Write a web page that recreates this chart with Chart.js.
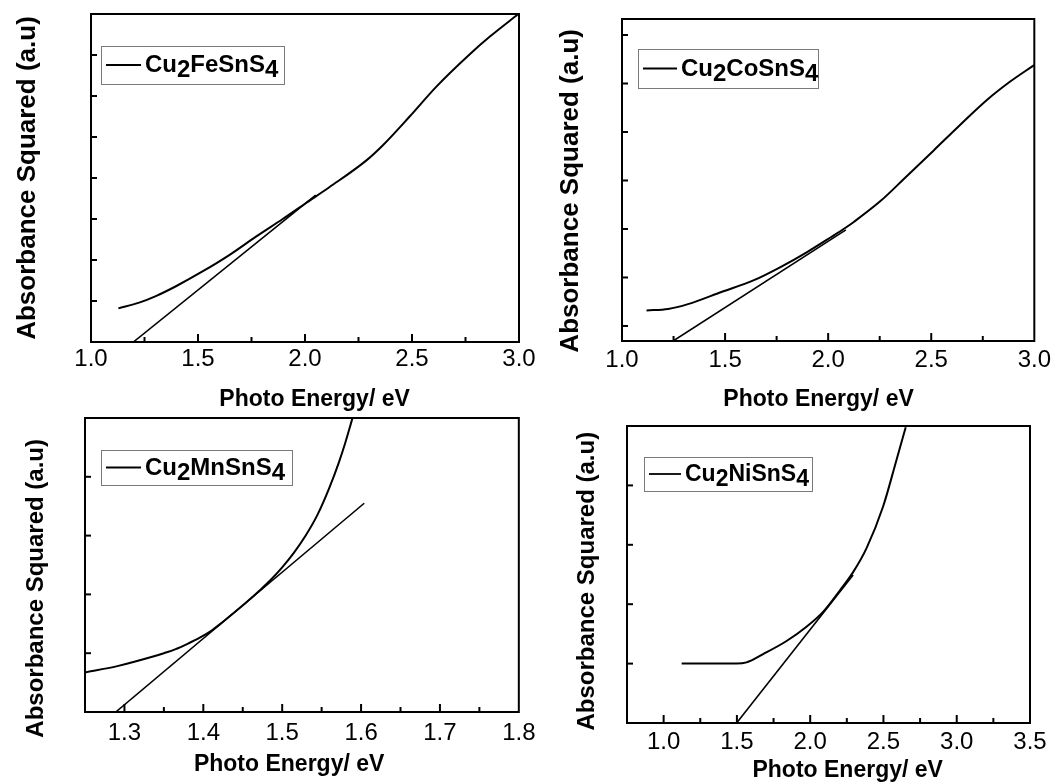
<!DOCTYPE html>
<html>
<head>
<meta charset="utf-8">
<script src="https://cdn.jsdelivr.net/npm/chart.js@4.4.0/dist/chart.umd.min.js"></script>
<style>
  html, body { margin: 0; padding: 0; background: #fff; }
  body { width: 1058px; height: 783px; position: relative; overflow: hidden; }
  canvas { position: absolute; }
</style>
</head>
<body>
<canvas id="fe" width="545" height="415" style="left:0;top:0"></canvas>
<canvas id="co" width="513" height="415" style="left:545px;top:0"></canvas>
<canvas id="mn" width="545" height="383" style="left:0;top:400px"></canvas>
<canvas id="ni" width="513" height="383" style="left:545px;top:400px"></canvas>
<script>
// ---- data ----
const feName = "Cu2FeSnS4";
const feX = [1.128, 1.225, 1.303, 1.397, 1.521, 1.646, 1.771, 1.896, 2.005, 2.115, 2.287, 2.364, 2.489, 2.614, 2.770, 2.864, 2.997];
const feY = [0.82, 0.96, 1.12, 1.36, 1.72, 2.12, 2.57, 3.00, 3.39, 3.78, 4.43, 4.80, 5.50, 6.23, 7.02, 7.45, 8.00];
const feFitX = [1.198, 2.05];
const feFitY = [0, 3.58];
const feRangeX = [1.0, 3.0];
const feRangeY = [0, 8];
const feLabelsX = [1.0, 1.5, 2.0, 2.5, 3.0];
const feTicksY = [1, 2, 3, 4, 5, 6, 7];

const coName = "Cu2CoSnS4";
const coX = [1.119, 1.224, 1.320, 1.482, 1.643, 1.771, 1.900, 2.013, 2.086, 2.126, 2.255, 2.367, 2.512, 2.641, 2.770, 2.883, 2.999];
const coY = [0.32, 0.35, 0.45, 0.70, 0.95, 1.22, 1.53, 1.83, 2.03, 2.15, 2.58, 3.03, 3.62, 4.15, 4.66, 5.04, 5.38];
const coFitX = [1.248, 2.086];
const coFitY = [-0.31, 1.98];
const coRangeX = [1.0, 3.0];
const coRangeY = [-0.31, 6.33];
const coLabelsX = [1.0, 1.5, 2.0, 2.5, 3.0];
const coTicksY = [0, 1, 2, 3, 4, 5, 6];

const mnName = "Cu2MnSnS4";
const mnX = [1.249, 1.291, 1.333, 1.350, 1.365, 1.380, 1.395, 1.410, 1.425, 1.440, 1.455, 1.470, 1.485, 1.500, 1.515, 1.530, 1.545, 1.560, 1.572, 1.580, 1.587, 1.590];
const mnY = [0.67, 0.78, 0.93, 1.00, 1.07, 1.16, 1.26, 1.38, 1.535, 1.70, 1.87, 2.05, 2.24, 2.46, 2.71, 3.005, 3.36, 3.82, 4.25, 4.58, 4.90, 5.04];
const mnFitX = [1.289, 1.604];
const mnFitY = [0, 3.55];
const mnRangeX = [1.25, 1.8];
const mnRangeY = [0, 5];
const mnLabelsX = [1.3, 1.4, 1.5, 1.6, 1.7, 1.8];
const mnTicksY = [1, 2, 3, 4];

const niName = "Cu2NiSnS4";
const niX = [1.123, 1.498, 1.566, 1.679, 1.839, 1.975, 2.088, 2.202, 2.293, 2.384, 2.497, 2.588, 2.652];
const niY = [1.00, 1.00, 1.02, 1.16, 1.38, 1.62, 1.87, 2.23, 2.54, 2.94, 3.64, 4.42, 4.98];
const niFitX = [1.498, 2.293];
const niFitY = [0, 2.49];
const niRangeX = [0.75, 3.5];
const niRangeY = [0, 5];
const niLabelsX = [1.0, 1.5, 2.0, 2.5, 3.0, 3.5];
const niTicksY = [1, 2, 3, 4];

const xTitle = "Photo Energy/ eV";
const yTitle = "Absorbance Squared (a.u)";
const family = "'Liberation Sans', Arial, sans-serif";

const pts = (xs, ys) => xs.map((v, i) => ({ x: v, y: ys[i] }));

// major labels plus a minor tick halfway between each pair
function withMinor(labels) {
  const out = [];
  labels.forEach((v, i) => {
    out.push(v);
    if (i < labels.length - 1) out.push((v + labels[i + 1]) / 2);
  });
  return out;
}

// nudge a centred title sideways with spaces (n > 0 moves it right / down)
function shifted(text, n) {
  return n > 0 ? ' '.repeat(n) + text : text + ' '.repeat(-n);
}

// frame, inward ticks and the legend with lowered digits
const framePlugin = {
  id: 'frame',
  afterDatasetsDraw(chart) {
    const { ctx, chartArea: a, scales: { x, y } } = chart;
    const b = chart.options.plugins.frame.box;
    ctx.save();
    ctx.strokeStyle = '#000';
    ctx.lineWidth = 2;
    x.ticks.forEach(t => {
      const px = x.getPixelForValue(t.value);
      if (px <= a.left + 2 || px >= a.right - 2) return;
      const len = t.label ? 8 : 5;
      ctx.beginPath();
      ctx.moveTo(px, a.bottom);
      ctx.lineTo(px, a.bottom - len);
      ctx.stroke();
    });
    y.ticks.forEach(t => {
      const py = y.getPixelForValue(t.value);
      if (py <= a.top + 2 || py >= a.bottom - 2) return;
      ctx.beginPath();
      ctx.moveTo(a.left, py);
      ctx.lineTo(a.left + 6, py);
      ctx.stroke();
    });
    ctx.strokeRect(a.left, a.top, a.right - a.left, a.bottom - a.top);

    // legend
    const bx = Math.round(a.left + b.dx), by = Math.round(a.top + b.dy);
    ctx.fillStyle = '#fff';
    ctx.fillRect(bx, by, b.w, b.h);
    ctx.strokeStyle = '#7a7a7a';
    ctx.lineWidth = 1;
    ctx.strokeRect(bx + 0.5, by + 0.5, b.w, b.h);
    const cy = by + b.h / 2;
    ctx.strokeStyle = '#000';
    ctx.lineWidth = 1.8;
    ctx.beginPath();
    ctx.moveTo(bx + 5, cy);
    ctx.lineTo(bx + 5 + b.line, cy);
    ctx.stroke();
    ctx.font = 'bold ' + b.font + 'px ' + family;
    ctx.fillStyle = '#000';
    ctx.textBaseline = 'alphabetic';
    let tx = bx + b.line + 9;
    for (const ch of chart.data.datasets[0].label) {
      const sub = /[0-9]/.test(ch);
      ctx.fillText(ch, tx, cy + 7 + (sub ? 5 : 0));
      tx += ctx.measureText(ch).width;
    }
    ctx.restore();
  }
};

function buildChart(id, d, L) {
  const ticksX = withMinor(d.labelsX);
  return new Chart(document.getElementById(id), {
    type: 'line',
    data: {
      datasets: [
        { label: d.name, data: pts(d.x, d.y), borderColor: '#000', borderWidth: 2,
          pointRadius: 0, cubicInterpolationMode: 'monotone' },
        { label: 'linear fit', data: pts(d.fitX, d.fitY), borderColor: '#000', borderWidth: 1.6,
          pointRadius: 0 }
      ]
    },
    options: {
      responsive: false,
      animation: false,
      events: [],
      layout: { padding: L.pad },
      plugins: {
        legend: { display: false },
        tooltip: { enabled: false },
        frame: { box: L.legend }
      },
      scales: {
        x: {
          type: 'linear', min: d.rangeX[0], max: d.rangeX[1],
          afterBuildTicks: s => { s.ticks = ticksX.map(v => ({ value: v })); },
          ticks: {
            autoSkip: false, maxRotation: 0, padding: L.tickPad, color: '#000',
            font: { family: family, size: 24, lineHeight: 1 },
            callback: v => d.labelsX.some(m => Math.abs(m - v) < 1e-6) ? v.toFixed(1) : ''
          },
          grid: { display: false, drawTicks: false },
          border: { display: false },
          title: {
            display: true, text: shifted(xTitle, L.xShift), color: '#000',
            font: { family: family, size: 23, weight: 'bold', lineHeight: 1 },
            padding: { top: 0, bottom: L.xTitlePad }
          },
          afterFit: s => { s.height = L.xh; }
        },
        y: {
          type: 'linear', min: d.rangeY[0], max: d.rangeY[1],
          afterBuildTicks: s => { s.ticks = d.ticksY.map(v => ({ value: v })); },
          ticks: { display: false },
          grid: { display: false, drawTicks: false },
          border: { display: false },
          title: {
            display: true, text: shifted(yTitle, -L.yShift), color: '#000',
            font: { family: family, size: L.yFont, weight: 'bold', lineHeight: 1 },
            padding: { top: L.yTitlePad, bottom: 0 }
          },
          afterFit: s => { s.width = L.yw; }
        }
      }
    },
    plugins: [framePlugin]
  });
}

buildChart('fe',
  { name: feName, x: feX, y: feY, fitX: feFitX, fitY: feFitY, rangeX: feRangeX, rangeY: feRangeY,
    labelsX: feLabelsX, ticksY: feTicksY },
  { pad: { left: 0, top: 14, right: 26, bottom: 0 }, yw: 91, xh: 73, tickPad: 5.5,
    xTitlePad: 4, xShift: 3, yFont: 26, yTitlePad: 15, yShift: 0,
    legend: { dx: 10, dy: 32, w: 183, h: 38, line: 35, font: 24 } });

buildChart('co',
  { name: coName, x: coX, y: coY, fitX: coFitX, fitY: coFitY, rangeX: coRangeX, rangeY: coRangeY,
    labelsX: coLabelsX, ticksY: coTicksY },
  { pad: { left: 0, top: 19, right: 22, bottom: 0 }, yw: 77, xh: 74, tickPad: 7,
    xTitlePad: 4, xShift: -3, yFont: 26, yTitlePad: 13, yShift: 3,
    legend: { dx: 16, dy: 30, w: 180, h: 39, line: 34, font: 24 } });

buildChart('mn',
  { name: mnName, x: mnX, y: mnY, fitX: mnFitX, fitY: mnFitY, rangeX: mnRangeX, rangeY: mnRangeY,
    labelsX: mnLabelsX, ticksY: mnTicksY },
  { pad: { left: 0, top: 18, right: 26, bottom: 0 }, yw: 85, xh: 71, tickPad: 9.5,
    xTitlePad: 6.5, xShift: -4, yFont: 24, yTitlePad: 24, yShift: 7,
    legend: { dx: 16, dy: 32, w: 191, h: 35, line: 35, font: 24 } });

buildChart('ni',
  { name: niName, x: niX, y: niY, fitX: niFitX, fitY: niFitY, rangeX: niRangeX, rangeY: niRangeY,
    labelsX: niLabelsX, ticksY: niTicksY },
  { pad: { left: 0, top: 26, right: 28, bottom: 0 }, yw: 82, xh: 60, tickPad: 7,
    xTitlePad: 0.5, xShift: 6, yFont: 24, yTitlePad: 30, yShift: 2,
    legend: { dx: 17, dy: 31, w: 168, h: 34, line: 32, font: 23 } });
</script>
</body>
</html>
